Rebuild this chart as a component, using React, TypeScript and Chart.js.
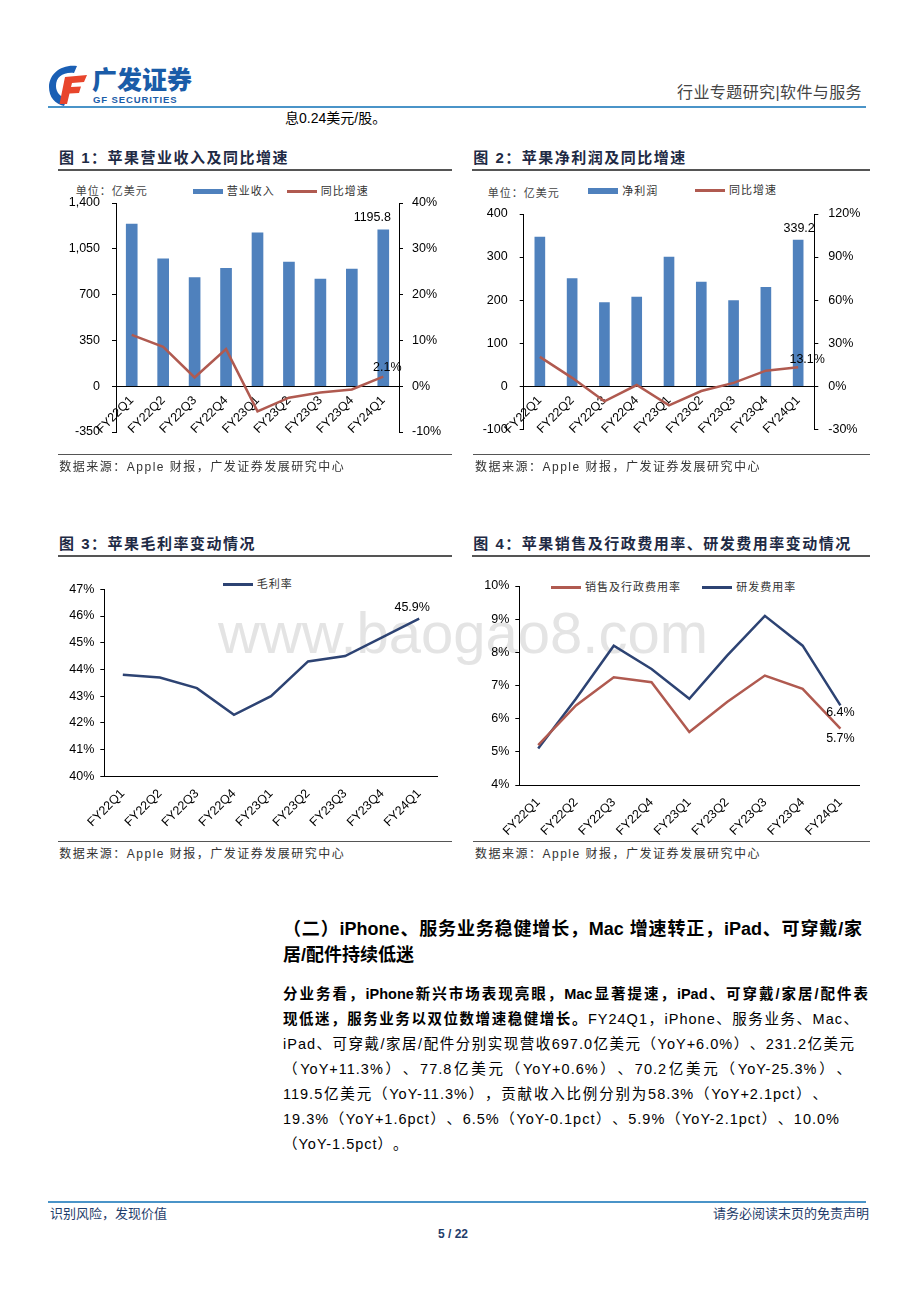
import React, { useEffect, useRef } from "react";
import { Chart, registerables } from "chart.js";
Chart.register(...registerables);

// ---------------- data ----------------
const quarters = ["FY22Q1", "FY22Q2", "FY22Q3", "FY22Q4", "FY23Q1", "FY23Q2", "FY23Q3", "FY23Q4", "FY24Q1"];
const revenue = [1239.5, 973.3, 829.6, 901.5, 1171.5, 948.4, 818.0, 895.0, 1195.8];
const revenueYoY = [11.2, 8.6, 1.9, 8.1, -5.5, -2.5, -1.4, -0.7, 2.1];
const netIncome = [346.3, 250.1, 194.4, 207.2, 300.0, 241.6, 198.8, 229.6, 339.2];
const netIncomeYoY = [20.4, 5.8, -10.6, 0.8, -13.4, -3.4, 2.3, 10.8, 13.1];
const grossMargin = [43.8, 43.7, 43.3, 42.3, 43.0, 44.3, 44.5, 45.2, 45.9];
const sgaRatio = [5.2, 6.4, 7.25, 7.1, 5.6, 6.5, 7.3, 6.9, 5.7];
const rdRatio = [5.1, 6.6, 8.2, 7.5, 6.6, 7.9, 9.1, 8.2, 6.4];

const revenueAxis = [-350, 1400, 350];
const revenueYoYAxis = [-10, 40, 10];
const netIncomeAxis = [-100, 400, 100];
const netIncomeYoYAxis = [-30, 120, 30];
const marginAxis = [40, 47, 1];
const expenseAxis = [4, 10, 1];

// ---------------- styles ----------------
const BLUE = "#4F81BD";
const RED = "#B05A50";
const NAVY = "#2D4373";
const TICK_FONT = { family: '"Liberation Sans", Arial, sans-serif', size: 12.5 };
const CJK = '"Liberation Sans", "Noto Sans CJK SC", sans-serif';

const labelPlugin = {
  id: "pointLabels",
  afterDatasetsDraw(chart: any, _args: any, opts: any) {
    const items = (opts && opts.items) || [];
    const ctx = chart.ctx;
    ctx.save();
    ctx.font = '12.5px "Liberation Sans", Arial, sans-serif';
    ctx.fillStyle = "#000";
    ctx.textAlign = "center";
    ctx.textBaseline = "middle";
    items.forEach((it: any) => {
      const el = chart.getDatasetMeta(it.ds).data[it.i];
      if (el) ctx.fillText(it.text, el.x + it.dx, el.y + it.dy);
    });
    ctx.restore();
  },
};

function yAxis(range: number[], position: string, width: number, padding: number, fmt: (v: number) => string) {
  return {
    position,
    min: range[0],
    max: range[1],
    afterFit: (s: any) => {
      s.width = width;
    },
    grid: { display: true, drawOnChartArea: false, drawTicks: true, tickLength: 4, color: "#000" },
    border: { display: true, color: "#000", width: 1 },
    ticks: { stepSize: range[2], padding, color: "#000", font: TICK_FONT, callback: (v: any) => fmt(Number(v)) },
  };
}

function xAxisZero(padding: number) {
  return {
    type: "category",
    offset: true,
    position: { y: 0 },
    grid: { display: false, drawTicks: false },
    border: { display: true, color: "#000", width: 1 },
    ticks: { maxRotation: 45, minRotation: 45, autoSkip: false, padding, color: "#000", font: TICK_FONT },
  };
}

function xAxisBottom(height: number, padding: number) {
  return {
    type: "category",
    offset: true,
    position: "bottom",
    afterFit: (s: any) => {
      s.height = height;
    },
    grid: { display: false, drawTicks: false },
    border: { display: true, color: "#000", width: 1 },
    ticks: { maxRotation: 45, minRotation: 45, autoSkip: false, padding, color: "#000", font: TICK_FONT },
  };
}

const baseOpts = {
  animation: false,
  responsive: false,
  devicePixelRatio: 1,
  events: [],
};

function chart1Config() {
  return {
    type: "bar",
    data: {
      labels: quarters,
      datasets: [
        { type: "line", data: revenueYoY, yAxisID: "y1", borderColor: RED, borderWidth: 2.5, pointRadius: 0, order: 0 },
        { type: "bar", data: revenue, yAxisID: "y", backgroundColor: BLUE, barThickness: 11, order: 1 },
      ],
    },
    options: {
      ...baseOpts,
      layout: { padding: { top: 25, bottom: 25, left: 0, right: 0 } },
      plugins: {
        legend: { display: false },
        tooltip: { enabled: false },
        pointLabels: {
          items: [
            { ds: 1, i: 8, text: revenue[8].toFixed(1), dx: -11, dy: -12 },
            { ds: 0, i: 8, text: revenueYoY[8].toFixed(1) + "%", dx: 4, dy: -9.5 },
          ],
        },
      },
      scales: {
        x: xAxisZero(7),
        y: yAxis(revenueAxis, "left", 66, 12, (v) => v.toLocaleString("en-US")),
        y1: yAxis(revenueYoYAxis, "right", 61, 9, (v) => v + "%"),
      },
    },
    plugins: [labelPlugin],
  };
}

function chart2Config() {
  return {
    type: "bar",
    data: {
      labels: quarters,
      datasets: [
        { type: "line", data: netIncomeYoY, yAxisID: "y1", borderColor: RED, borderWidth: 2.5, pointRadius: 0, order: 0 },
        { type: "bar", data: netIncome, yAxisID: "y", backgroundColor: BLUE, barThickness: 10, order: 1 },
      ],
    },
    options: {
      ...baseOpts,
      layout: { padding: { top: 25, bottom: 24.8, left: 0, right: 0 } },
      plugins: {
        legend: { display: false },
        tooltip: { enabled: false },
        pointLabels: {
          items: [
            { ds: 1, i: 8, text: netIncome[8].toFixed(1), dx: 1, dy: -12 },
            { ds: 0, i: 8, text: netIncomeYoY[8].toFixed(1) + "%", dx: 9, dy: -8 },
          ],
        },
      },
      scales: {
        x: xAxisZero(7),
        y: yAxis(netIncomeAxis, "left", 58.7, 12, (v) => String(v)),
        y1: yAxis(netIncomeYoYAxis, "right", 60.7, 10, (v) => v + "%"),
      },
    },
    plugins: [labelPlugin],
  };
}

function chart3Config() {
  return {
    type: "line",
    data: {
      labels: quarters,
      datasets: [{ data: grossMargin, borderColor: NAVY, borderWidth: 2.5, pointRadius: 0 }],
    },
    options: {
      ...baseOpts,
      layout: { padding: { top: 19.3, bottom: 3.7, left: 0, right: 22.3 } },
      plugins: {
        legend: { display: false },
        tooltip: { enabled: false },
        pointLabels: { items: [{ ds: 0, i: 8, text: grossMargin[8].toFixed(1) + "%", dx: -7, dy: -11 }] },
      },
      scales: {
        x: xAxisBottom(60, 10),
        y: yAxis(marginAxis, "left", 54.3, 6, (v) => v + "%"),
      },
    },
    plugins: [labelPlugin],
  };
}

function chart4Config() {
  return {
    type: "line",
    data: {
      labels: quarters,
      datasets: [
        { data: sgaRatio, borderColor: RED, borderWidth: 2.5, pointRadius: 0 },
        { data: rdRatio, borderColor: NAVY, borderWidth: 2.5, pointRadius: 0 },
      ],
    },
    options: {
      ...baseOpts,
      layout: { padding: { top: 16, bottom: 3, left: 0, right: 15.7 } },
      plugins: {
        legend: { display: false },
        tooltip: { enabled: false },
        pointLabels: {
          items: [
            { ds: 1, i: 8, text: rdRatio[8].toFixed(1) + "%", dx: 0, dy: 7 },
            { ds: 0, i: 8, text: sgaRatio[8].toFixed(1) + "%", dx: 0, dy: 10 },
          ],
        },
      },
      scales: {
        x: xAxisBottom(52, 10),
        y: yAxis(expenseAxis, "left", 54.3, 6, (v) => v + "%"),
      },
    },
    plugins: [labelPlugin],
  };
}

// ---------------- components ----------------
function ChartBox(props: { left: number; top: number; width: number; height: number; build: () => any }) {
  const ref = useRef<HTMLCanvasElement | null>(null);
  useEffect(() => {
    const chart = new Chart(ref.current as HTMLCanvasElement, props.build());
    return () => chart.destroy();
  }, []);
  return (
    <canvas
      ref={ref}
      width={props.width}
      height={props.height}
      style={{ position: "absolute", left: props.left, top: props.top, width: props.width, height: props.height }}
    />
  );
}

function T(props: {
  x: number;
  y: number;
  size: number;
  children: any;
  color?: string;
  weight?: number;
  ls?: number;
  right?: boolean;
  center?: boolean;
  width?: number;
  justify?: boolean;
  family?: string;
}) {
  const h = Math.round(props.size * 1.5);
  const style: any = {
    position: "absolute",
    top: props.y - h / 2,
    height: h,
    lineHeight: h + "px",
    fontSize: props.size,
    fontFamily: props.family || CJK,
    fontWeight: props.weight || 400,
    color: props.color || "#000",
    letterSpacing: (props.ls || 0) + "px",
    whiteSpace: "nowrap",
    textSpacingTrim: "space-all",
  };
  if (props.right) {
    style.right = 920 - props.x;
    style.textAlign = "right";
  } else if (props.center) {
    style.left = props.x - 100;
    style.width = 200;
    style.textAlign = "center";
  } else {
    style.left = props.x;
  }
  if (props.width) {
    style.width = props.width;
  }
  if (props.justify) {
    style.textAlign = "justify";
    style.textAlignLast = "justify";
  }
  return <div style={style}>{props.children}</div>;
}

function Rect(props: { x: number; y: number; w: number; h: number; color: string }) {
  return (
    <div
      style={{ position: "absolute", left: props.x, top: props.y, width: props.w, height: props.h, background: props.color }}
    />
  );
}

function ChartTitle(props: { x: number; y: number; lineRight: number; num: string; text: string }) {
  return (
    <>
      <T x={props.x} y={props.y} size={15} weight={700} color="#1E2A44" ls={1.5}>
        图 {props.num}：{props.text}
      </T>
      <Rect x={props.x - 1.5} y={props.y + 12} w={props.lineRight - props.x + 1.5} h={1.3} color="#555" />
    </>
  );
}

function Source(props: { x: number; y: number; lineLeft: number; lineRight: number }) {
  return (
    <>
      <Rect x={props.lineLeft} y={props.y - 13.5} w={props.lineRight - props.lineLeft} h={1.3} color="#555" />
      <T x={props.x} y={props.y} size={12} color="#333" ls={1.5}>
        数据来源：Apple 财报，广发证券发展研究中心
      </T>
    </>
  );
}

function LegendBox(props: { x: number; y: number; color: string; label: string; bar?: boolean }) {
  const h = props.bar ? 5.5 : 3;
  return (
    <>
      <Rect x={props.x} y={props.y - h / 2} w={30} h={h} color={props.color} />
      <T x={props.x + 34} y={props.y} size={11} color="#333" ls={1}>
        {props.label}
      </T>
    </>
  );
}

export default function App() {
  useEffect(() => {
    document.body.style.background = "#fff";
  }, []);
  return (
    <div style={{ position: "absolute", left: 0, top: 0, width: 920, height: 1302, background: "#fff", overflow: "hidden" }}>
      {/* header */}
      <svg style={{ position: "absolute", left: 46, top: 63 }} width="44" height="44" viewBox="0 0 44 44">
        <path d="M31 3 C15 1 3 11 3 24 C3 34 9 41 18 43 L21 36 C14 34 10 29 10 23 C10 14 17 9 28 10 Z" fill="#1a5fb4" />
        <path d="M19 14 L41 12 L38 19 L26 20 L25 24 L35 23.5 L33 30 L23.5 30.5 L21 41 L13.5 41 Z" fill="#e8452c" />
      </svg>
      <T x={92} y={80} size={25} weight={900} color="#1a5ca8" ls={0}>
        广发证券
      </T>
      <T x={93} y={99.5} size={9.5} weight={700} color="#1a5ca8" ls={0.9} family='"Liberation Sans", Arial, sans-serif'>
        GF SECURITIES
      </T>
      <T x={862} y={93} size={16} right color="#444" ls={0.4}>
        行业专题研究|软件与服务
      </T>
      <Rect x={48} y={106} w={818} h={2} color="#4A94C8" />
      <T x={285} y={118} size={14}>
        息0.24美元/股。
      </T>

      {/* watermark */}
      <div
        style={{
          position: "absolute",
          left: 218,
          top: 600,
          fontFamily: '"Liberation Sans", Arial, sans-serif',
          fontSize: 58,
          lineHeight: "66px",
          color: "#e4e4e4",
          whiteSpace: "nowrap",
        }}
      >
        www.baogao8.com
      </div>

      {/* chart 1 */}
      <ChartTitle x={59} y={157.3} lineRight={452} num="1" text="苹果营业收入及同比增速" />
      <T x={75.7} y={191.7} size={11} color="#444" ls={1}>
        单位：亿美元
      </T>
      <LegendBox x={192.7} y={191.5} color={BLUE} label="营业收入" bar />
      <LegendBox x={286.7} y={191.7} color={RED} label="同比增速" />
      <ChartBox left={50} top={178} width={410} height={279} build={chart1Config} />
      <Source x={59.3} y={467.3} lineLeft={58} lineRight={452} />

      {/* chart 2 */}
      <ChartTitle x={473.3} y={157.3} lineRight={870} num="2" text="苹果净利润及同比增速" />
      <T x={487.7} y={193.3} size={11} color="#444" ls={1}>
        单位：亿美元
      </T>
      <LegendBox x={588.3} y={191} color={BLUE} label="净利润" bar />
      <LegendBox x={695} y={190.7} color={RED} label="同比增速" />
      <ChartBox left={465} top={189} width={410} height={265} build={chart2Config} />
      <Source x={475} y={467.3} lineLeft={473} lineRight={870} />

      {/* chart 3 */}
      <ChartTitle x={59} y={543.3} lineRight={452} num="3" text="苹果毛利率变动情况" />
      <LegendBox x={222.7} y={584.3} color={NAVY} label="毛利率" />
      <ChartBox left={50} top={570} width={410} height={270} build={chart3Config} />
      <Source x={59.3} y={854} lineLeft={58} lineRight={452} />

      {/* chart 4 */}
      <ChartTitle x={473.3} y={543.3} lineRight={870} num="4" text="苹果销售及行政费用率、研发费用率变动情况" />
      <LegendBox x={551} y={587.7} color={RED} label="销售及行政费用率" />
      <LegendBox x={702.3} y={587.7} color={NAVY} label="研发费用率" />
      <ChartBox left={465} top={570} width={410} height={270} build={chart4Config} />
      <Source x={475} y={854} lineLeft={473} lineRight={870} />

      {/* section heading */}
      <T x={283} y={929} size={18} weight={700} width={579} justify>
        （二）iPhone、服务业务稳健增长，Mac 增速转正，iPad、可穿戴/家
      </T>
      <T x={283} y={955} size={18} weight={700}>
        居/配件持续低迷
      </T>

      {/* paragraph */}
      <T x={283} y={994} size={14.5} weight={700} width={585} justify>
        分业务看，iPhone新兴市场表现亮眼，Mac显著提速，iPad、可穿戴/家居/配件表
      </T>
      <T x={283} y={1019} size={14.5} width={576} justify ls={1}>
        <b>现低迷，服务业务以双位数增速稳健增长。</b>FY24Q1，iPhone、服务业务、Mac、
      </T>
      <T x={283} y={1043.5} size={14.5} width={572} justify ls={1}>
        iPad、可穿戴/家居/配件分别实现营收697.0亿美元（YoY+6.0%）、231.2亿美元
      </T>
      <T x={283} y={1068.5} size={14.5} width={569} justify ls={1}>
        （YoY+11.3%）、77.8亿美元（YoY+0.6%）、70.2亿美元（YoY-25.3%）、
      </T>
      <T x={283} y={1093.5} size={14.5} width={545} justify ls={1}>
        119.5亿美元（YoY-11.3%），贡献收入比例分别为58.3%（YoY+2.1pct）、
      </T>
      <T x={283} y={1118.5} size={14.5} width={557} justify ls={1}>
        19.3%（YoY+1.6pct）、6.5%（YoY-0.1pct）、5.9%（YoY-2.1pct）、10.0%
      </T>
      <T x={283} y={1143.5} size={14.5} ls={1}>
        （YoY-1.5pct）。
      </T>

      {/* footer */}
      <Rect x={48} y={1201} w={818} h={2} color="#4A94C8" />
      <T x={50} y={1214} size={13} color="#1F3D6B">
        识别风险，发现价值
      </T>
      <T x={869} y={1214} size={13} right color="#1F3D6B">
        请务必阅读末页的免责声明
      </T>
      <T x={453} y={1234} size={12} center weight={700} color="#1F3D6B">
        5 / 22
      </T>
    </div>
  );
}
